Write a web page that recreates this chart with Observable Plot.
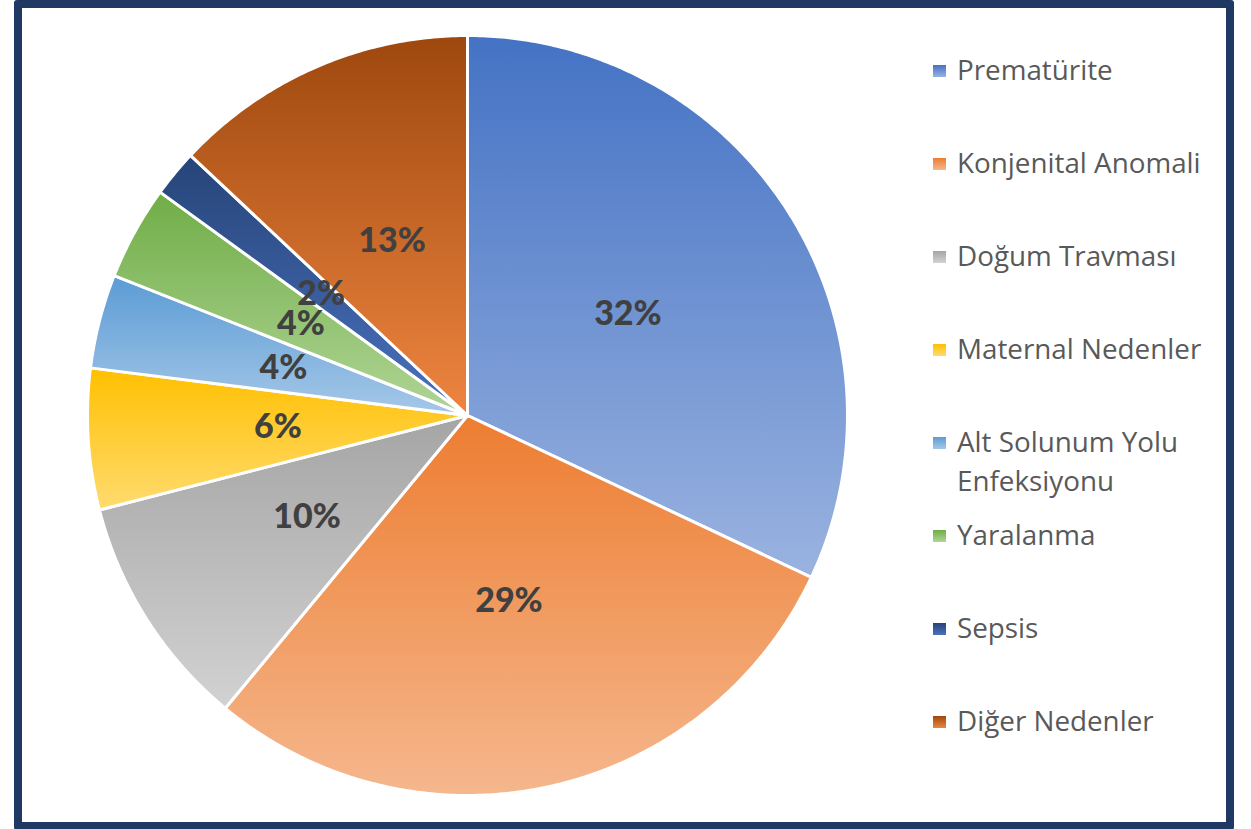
<!DOCTYPE html>
<html>
<head>
<meta charset="utf-8">
<script src="https://cdn.jsdelivr.net/npm/d3@7"></script>
<script src="https://cdn.jsdelivr.net/npm/@observablehq/plot@0.6"></script>
<style>
  html, body { margin: 0; padding: 0; background: #ffffff; }
  #wrap { position: relative; width: 1251px; height: 829px; overflow: hidden; background: #fff; }
  #frame { position: absolute; left: 14px; top: 0px; width: 1220px; height: 830px; box-sizing: border-box;
           border: 8px solid #1F3864; border-radius: 3px; pointer-events: none; z-index: 5; }
  #chart { position: absolute; left: 0; top: 0; }
  .leg { position: absolute; left: 933px; font-family: "Open Sans", "Noto Sans", sans-serif; font-size: 27.8px;
         color: #595959; line-height: 39px; }
  .leg .sw { position: absolute; left: 0; width: 13px; height: 12px; }
  .leg .tx { position: absolute; left: 24px; width: 270px; }
</style>
</head>
<body>
<div id="wrap">
  <div id="chart"></div>
  <div id="legend"></div>
  <div id="frame"></div>
</div>
<script>
const categories = ["Prematürite", "Konjenital Anomali", "Doğum Travması", "Maternal Nedenler",
                    "Alt Solunum Yolu Enfeksiyonu", "Yaralanma", "Sepsis", "Diğer Nedenler"];
const values = [32, 29, 10, 6, 4, 4, 2, 13];
const topColors = ["#4472C4", "#ED7D31", "#A5A5A5", "#FFC000", "#5B9BD5", "#70AD47", "#264478", "#9E480E"];
const bottomColors = ["#9AB3E0", "#F5B78D", "#D2D2D2", "#FFDB70", "#A6C8E8", "#B0D596", "#4A72BF", "#EE8540"];

const total = d3.sum(values);
const pie = d3.pie().sort(null).value(d => d)(values);

// slice polygons in unit-circle data coordinates (compass angle, clockwise from top)
const slicePts = [];
pie.forEach((p, i) => {
  const name = categories[i];
  const grad = `url(#grad${i})`;
  slicePts.push({name, grad, x: 0, y: 0});
  const n = Math.max(4, Math.ceil((p.endAngle - p.startAngle) / 0.01));
  for (let k = 0; k <= n; k++) {
    const a = p.startAngle + (p.endAngle - p.startAngle) * k / n;
    slicePts.push({name, grad, x: Math.sin(a), y: Math.cos(a)});
  }
});

const labels = pie.map((p, i) => {
  const a = (p.startAngle + p.endAngle) / 2;
  return {x: 0.5 * Math.sin(a), y: 0.5 * Math.cos(a), text: Math.round(values[i] / total * 100) + "%"};
});

const W = 1251, H = 829;
const cx = 467, cy = 415, R = 380;

const svg = Plot.plot({
  width: W,
  height: H,
  marginLeft: cx - R,
  marginRight: W - (cx + R),
  marginTop: cy - R,
  marginBottom: H - (cy + R),
  x: {domain: [-1, 1], axis: null},
  y: {domain: [-1, 1], axis: null},
  color: {type: "identity"},
  style: {background: "transparent", overflow: "visible"},
  marks: [
    Plot.line(slicePts, {x: "x", y: "y", z: "name", fill: "grad", stroke: "white", strokeWidth: 3,
                         strokeLinejoin: "round", curve: "linear-closed"}),
    Plot.text(labels, {x: "x", y: "y", text: "text", fill: "#404040", fontSize: 34, fontWeight: 900,
                       fontFamily: "Lato, 'Open Sans', sans-serif"})
  ]
});

// gradient definitions (vertical: base colour at top, lighter tint at bottom)
const ns = "http://www.w3.org/2000/svg";
const defs = document.createElementNS(ns, "defs");
categories.forEach((c, i) => {
  const g = document.createElementNS(ns, "linearGradient");
  g.setAttribute("id", "grad" + i);
  g.setAttribute("x1", "0"); g.setAttribute("y1", "0");
  g.setAttribute("x2", "0"); g.setAttribute("y2", "1");
  [[0, topColors[i]], [1, bottomColors[i]]].forEach(([o, col]) => {
    const s = document.createElementNS(ns, "stop");
    s.setAttribute("offset", o);
    s.setAttribute("stop-color", col);
    g.appendChild(s);
  });
  defs.appendChild(g);
});
svg.insertBefore(defs, svg.firstChild);
document.getElementById("chart").appendChild(svg);

// legend
const legend = document.getElementById("legend");
categories.forEach((c, i) => {
  const yc = 70 + i * 93;
  const item = document.createElement("div");
  item.className = "leg";
  item.style.top = (yc - 20.5) + "px";
  const sw = document.createElement("div");
  sw.className = "sw";
  sw.style.top = (20.5 - 5) + "px";
  sw.style.background = `linear-gradient(to bottom, ${topColors[i]}, ${bottomColors[i]})`;
  const tx = document.createElement("div");
  tx.className = "tx";
  tx.textContent = c;
  item.appendChild(sw);
  item.appendChild(tx);
  legend.appendChild(item);
});
</script>
</body>
</html>
